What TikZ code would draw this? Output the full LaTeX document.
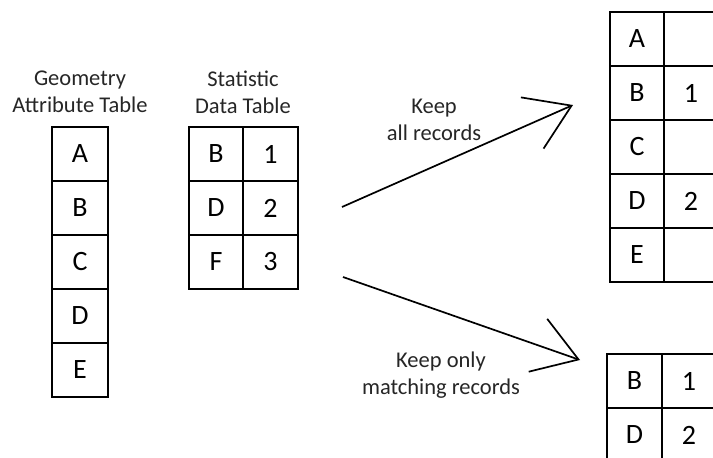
\documentclass[tikz,border=0pt]{standalone}
\usepackage{fontspec}
\setmainfont{Carlito}
\usetikzlibrary{arrows.meta}
\definecolor{labelgray}{HTML}{262626}
\tikzset{
  cell/.style={draw=black, line width=1.6pt, inner sep=0pt, outer sep=0pt,
    minimum width=#1, minimum height=54pt, font=\fontsize{28}{28}\selectfont},
  cell/.default=55pt,
  caption/.style={align=center, text=labelgray, font=\fontsize{22.5}{27}\selectfont},
  flow/.style={line width=1.7pt, -{Straight Barb[length=43pt,width=56pt,line width=1.7pt]}}
}
\begin{document}
\begin{tikzpicture}[x=1pt,y=-1pt]
\useasboundingbox (0,0) rectangle (713,458);
% Geometry attribute table
\node[caption] (gcap) at (80,92) {Geometry\\Attribute Table};
\node[cell=56pt] (gA) at (80,154) {A};
\node[cell=56pt] (gB) at (80,208) {B};
\node[cell=56pt] (gC) at (80,262) {C};
\node[cell=56pt] (gD) at (80,316) {D};
\node[cell=56pt] (gE) at (80,370) {E};
% Statistic data table
\node[caption] (scap) at (243,92) {Statistic\\Data Table};
\node[cell=54pt] (sB) at (216,154) {B};
\node[cell=55pt] (s1) at (270.5,154) {1};
\node[cell=54pt] (sD) at (216,208) {D};
\node[cell=55pt] (s2) at (270.5,208) {2};
\node[cell=54pt] (sF) at (216,262) {F};
\node[cell=55pt] (s3) at (270.5,262) {3};
% Result: keep all records
\node[cell=54pt] (rA) at (637,39) {A};
\node[cell=54pt] (rA2) at (691,39) {};
\node[cell=54pt] (rB) at (637,93) {B};
\node[cell=54pt] (rB2) at (691,93) {1};
\node[cell=54pt] (rC) at (637,147) {C};
\node[cell=54pt] (rC2) at (691,147) {};
\node[cell=54pt] (rD) at (637,201) {D};
\node[cell=54pt] (rD2) at (691,201) {2};
\node[cell=54pt] (rE) at (637,255) {E};
\node[cell=54pt] (rE2) at (691,255) {};
% Result: keep only matching records
\node[cell=55pt] (mB) at (634.5,381) {B};
\node[cell=54pt] (mB2) at (689,381) {1};
\node[cell=55pt] (mD) at (634.5,435) {D};
\node[cell=54pt] (mD2) at (689,435) {2};
% Arrows
\coordinate (a1s) at (342,207);
\coordinate (a1e) at (573,105);
\coordinate (a2s) at (343,277);
\coordinate (a2e) at (580,360);
\draw[flow] (a1s) -- (a1e);
\draw[flow] (a2s) -- (a2e);
\node[caption] (l1) at (434,120) {Keep\\all records};
\node[caption] (l2) at (441,375.5) {Keep only\\matching records};
\end{tikzpicture}
\end{document}
